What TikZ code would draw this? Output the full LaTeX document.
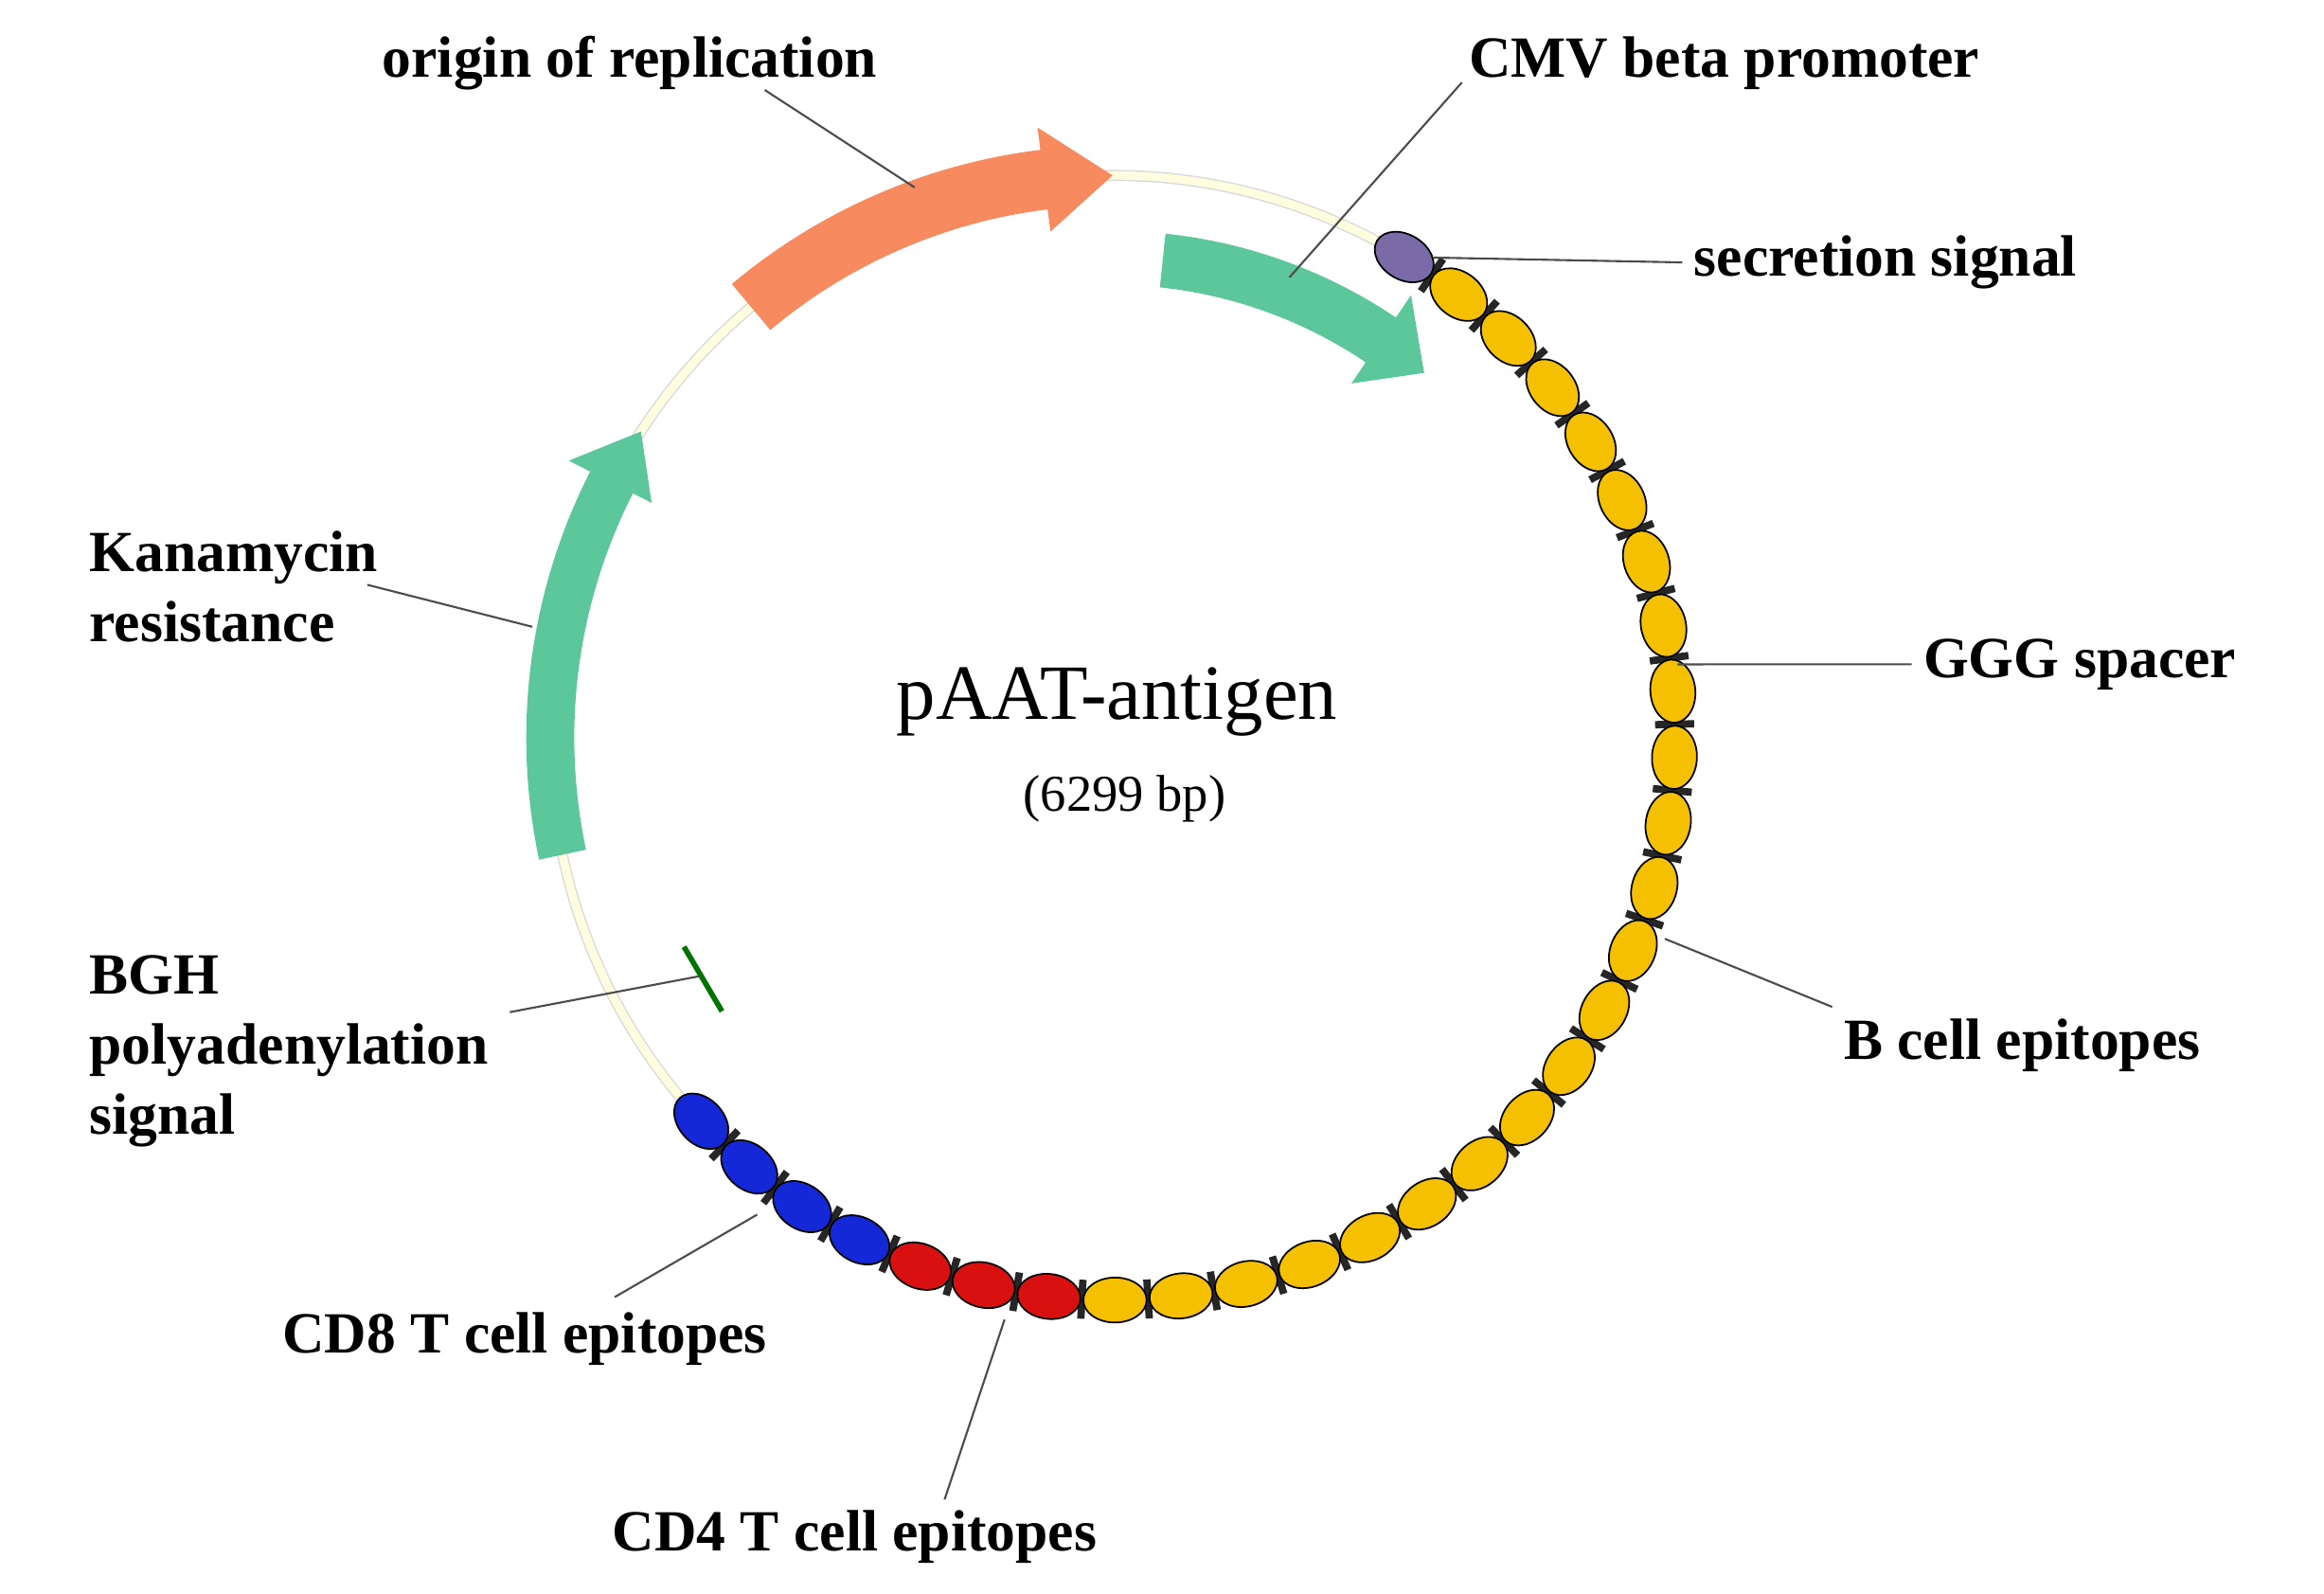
\documentclass[tikz,border=0pt]{standalone}
\usepackage{fontspec}
\setmainfont{Liberation Serif}
\usetikzlibrary{shapes.geometric}
\definecolor{yel}{HTML}{F5C000}
\definecolor{rd}{HTML}{D81010}
\definecolor{bl}{HTML}{1428D8}
\definecolor{pur}{HTML}{7A6AA8}
\definecolor{grn}{HTML}{5CC79A}
\definecolor{org}{HTML}{F78A5E}
\definecolor{pale}{HTML}{FFFDE0}
\begin{document}
\begin{tikzpicture}[x=0.45pt,y=0.45pt,
  lab/.style={font=\fontsize{17.5}{21}\selectfont\bfseries},
  ptr/.style={draw=black!70,line width=0.6pt},
  bead/.style={ellipse,draw=black,line width=0.5pt,minimum width=19pt,minimum height=13.5pt,inner sep=0pt}]
\useasboundingbox (0,0) rectangle (1550,1063);
\begin{scope}[shift={(742,571)}]
\draw[draw=black!15,double=pale,double distance=2.5pt,line width=0.4pt] (0,0) circle[radius=375];
% origin of replication
\fill[org] (130:355) arc[start angle=130,end angle=97,radius=355] -- (97:340) -- (90:375) -- (97:410) -- (97:395) arc[start angle=97,end angle=130,radius=395] -- cycle;
% CMV
\fill[grn] (84:302) arc[start angle=84,end angle=56,radius=302] -- (56:285) -- (49.5:320) -- (56:356) -- (56:338) arc[start angle=56,end angle=84,radius=338] -- cycle;
% Kanamycin
\fill[grn] (192:359) arc[start angle=192,end angle=153,radius=359] -- (153:345) -- (147:375) -- (153:407) -- (153:391) arc[start angle=153,end angle=192,radius=391] -- cycle;
% BGH
\draw[green!45!black,line width=1.6pt] (206:318) -- (215:318);
\coordinate (bgh) at (210:318);
% beads
\foreach \i in {0,...,29}{
  \pgfmathsetmacro{\a}{223+6.75*\i}
  \ifnum\i<29
   \draw[black!85,line width=2.2pt] (\a+3.375:362) -- (\a+3.375:388);
  \fi
  \ifnum\i<4 \def\c{bl}\else\ifnum\i<7 \def\c{rd}\else\ifnum\i<29 \def\c{yel}\else\def\c{pur}\fi\fi\fi
  \node[bead,fill=\c,rotate=\a+90] (b\i) at (\a:375) {};
}
\coordinate (spc) at (7.4:380);
\coordinate (bce) at (340:392);
\end{scope}
\node[font=\fontsize{23.5}{28}\selectfont] (title) at (745,595) {pAAT-antigen};
\node[font=\fontsize{15.5}{18}\selectfont] (bp) at (750,530) {(6299 bp)};
\node[lab] (ori) at (420,1021) {origin of replication};
\node[lab] (cmv) at (1150,1021) {CMV beta promoter};
\node[lab,anchor=west] (sec) at (1122,888) {secretion signal};
\node[lab,anchor=west] (ggg) at (1275,620) {GGG spacer};
\node[lab,anchor=west] (bcell) at (1222,366) {B cell epitopes};
\node[lab,anchor=west,align=left] (kan) at (52,672) {Kanamycin\\resistance};
\node[lab,anchor=west,align=left] (bghl) at (52,362) {BGH\\polyadenylation\\signal};
\node[lab] (cd8) at (350,170) {CD8 T cell epitopes};
\node[lab] (cd4) at (570,38) {CD4 T cell epitopes};
\coordinate (p1) at (510,1003); \coordinate (p1e) at (610,938);
\draw[ptr] (p1) -- (p1e);
\coordinate (p2) at (975,1008); \coordinate (p2e) at (860,878);
\draw[ptr] (p2) -- (p2e);
\draw[ptr] (b29) -- (sec.west);
\draw[ptr] (spc) -- (ggg.west);
\draw[ptr] (bce) -- (bcell.north west);
\coordinate (k1) at (245,673); \coordinate (k2) at (355,645);
\draw[ptr] (k1) -- (k2);
\coordinate (g1) at (340,388);
\draw[ptr] (g1) -- (bgh);
\coordinate (c81) at (410,198); \coordinate (c82) at (505,253);
\draw[ptr] (c81) -- (c82);
\coordinate (c41) at (630,63); \coordinate (c42) at (670,183);
\draw[ptr] (c41) -- (c42);
\end{tikzpicture}
\end{document}
